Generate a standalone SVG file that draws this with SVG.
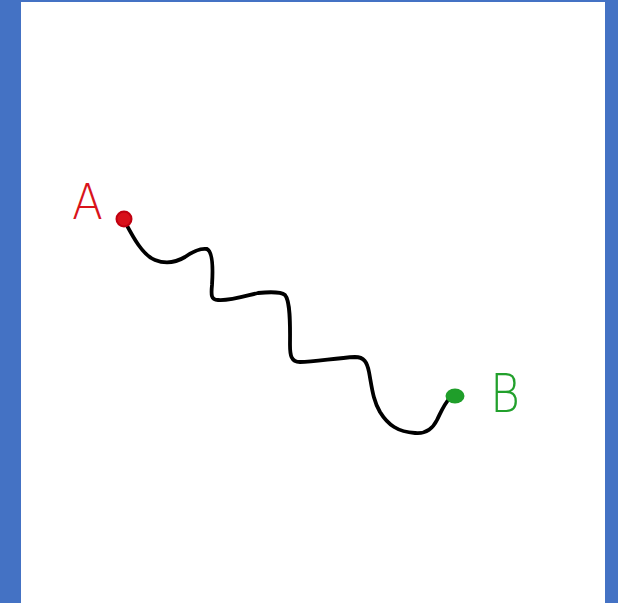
<svg xmlns="http://www.w3.org/2000/svg" width="618" height="603" viewBox="0 0 618 603">
<style>
.lbl{font-family:"DejaVu Sans","Liberation Sans",sans-serif;font-weight:200}
.wire{fill:none;stroke:#000;stroke-width:3.8;stroke-linecap:round;stroke-linejoin:round}
</style>
<rect x="0" y="0" width="618" height="603" fill="#4472c4"/>
<rect x="21" y="2" width="584" height="601" fill="#ffffff"/>
<g id="connectors">
<path class="wire" d="M124,220 C132,235 142,255 155,260 C165,264 175,263 185,257 C192,252 200,248 207,249 C213,252 213,270 212,285 C211,295 211,300 218,300 C230,301 245,296 258,293 C268,292 280,291 285,295 C291,302 290,330 290,345 C290,355 291,362 300,362 C315,362 335,358 355,357 C364,357 367,362 369,372 C372,388 373,400 380,412 C388,425 398,432 415,433 C425,434 432,430 437,420 C441,412 444,404 450,398"/>
</g>
<g id="nodeA">
<ellipse cx="124" cy="219" rx="7.5" ry="7.5" fill="#d8101a" stroke="#c00010" stroke-width="2"/>
<text class="lbl" x="72" y="219" font-size="50" fill="#d9141b" textLength="31" lengthAdjust="spacingAndGlyphs">A</text>
</g>
<g id="nodeB">
<ellipse cx="455" cy="396" rx="9.5" ry="7.5" fill="#1f9e2a"/>
<text class="lbl" x="490" y="412" font-size="53" fill="#22a02c" textLength="30" lengthAdjust="spacingAndGlyphs">B</text>
</g>
</svg>
